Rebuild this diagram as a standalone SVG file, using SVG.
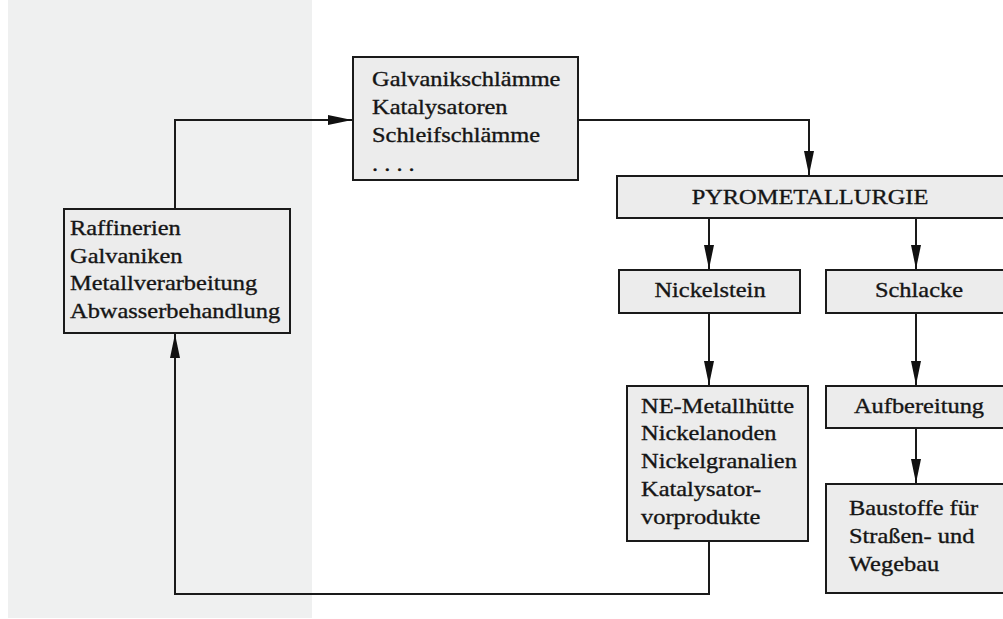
<svg xmlns="http://www.w3.org/2000/svg" width="1003" height="619" viewBox="0 0 1003 619">
  <style>
    .box { fill: #ececec; stroke: #1a1a1a; stroke-width: 2; }
    .lbl { font-family: "Liberation Serif", "Times New Roman", serif; font-size: 22px; fill: #151515; stroke: #151515; stroke-width: 0.35px; }
    .mid { text-anchor: middle; }
    .wire { fill: none; stroke: #1a1a1a; stroke-width: 2; }
  </style>
  <defs>
    <marker id="arrow" viewBox="0 0 24 10" refX="24" refY="5" markerWidth="24" markerHeight="10" markerUnits="userSpaceOnUse" orient="auto">
      <path d="M0,0 L24,5 L0,10 Z" fill="#111"/>
    </marker>
  </defs>

  <rect width="1003" height="619" fill="#ffffff"/>
  <!-- shaded panel behind the source column -->
  <rect x="8" y="0" width="304" height="618" fill="#eff0f0"/>

  <g id="connectors">
    <path class="wire" d="M175,209 L175,120 L352,120" marker-end="url(#arrow)"/>
    <path class="wire" d="M578,120 L809,120 L809,175" marker-end="url(#arrow)"/>
    <path class="wire" d="M709,218 L709,269" marker-end="url(#arrow)"/>
    <path class="wire" d="M916,218 L916,269" marker-end="url(#arrow)"/>
    <path class="wire" d="M709,313 L709,385" marker-end="url(#arrow)"/>
    <path class="wire" d="M916,313 L916,385" marker-end="url(#arrow)"/>
    <path class="wire" d="M916,428 L916,483" marker-end="url(#arrow)"/>
    <path class="wire" d="M709,541 L709,594 L175,594 L175,334" marker-end="url(#arrow)"/>
  </g>

  <!-- labels are set slightly condensed-wide: each block is scaled 1.11 horizontally from its left edge / centre -->
  <g id="quellen">
    <rect class="box" x="64" y="209" width="226" height="124"/>
    <g transform="translate(70,0) scale(1.11,1)">
      <text class="lbl" x="0" y="235">Raffinerien</text>
      <text class="lbl" x="0" y="263">Galvaniken</text>
      <text class="lbl" x="0" y="290">Metallverarbeitung</text>
      <text class="lbl" x="0" y="318">Abwasserbehandlung</text>
    </g>
  </g>

  <g id="reststoffe">
    <rect class="box" x="353" y="57" width="225" height="123"/>
    <g transform="translate(372,0) scale(1.11,1)">
      <text class="lbl" x="0" y="86">Galvanikschlämme</text>
      <text class="lbl" x="0" y="114">Katalysatoren</text>
      <text class="lbl" x="0" y="142">Schleifschlämme</text>
      <text class="lbl" x="0" y="171">. . . .</text>
    </g>
  </g>

  <g id="pyrometallurgie">
    <rect class="box" x="617" y="176" width="400" height="42"/>
    <g transform="translate(810,0) scale(1.11,1)">
      <text class="lbl mid" x="0" y="204">PYROMETALLURGIE</text>
    </g>
  </g>

  <g id="nickelstein">
    <rect class="box" x="619" y="270" width="181" height="43"/>
    <g transform="translate(710,0) scale(1.11,1)">
      <text class="lbl mid" x="0" y="297">Nickelstein</text>
    </g>
  </g>

  <g id="schlacke">
    <rect class="box" x="826" y="270" width="190" height="43"/>
    <g transform="translate(919,0) scale(1.11,1)">
      <text class="lbl mid" x="0" y="297">Schlacke</text>
    </g>
  </g>

  <g id="produkte">
    <rect class="box" x="627" y="386" width="181" height="155"/>
    <g transform="translate(641,0) scale(1.11,1)">
      <text class="lbl" x="0" y="413">NE-Metallhütte</text>
      <text class="lbl" x="0" y="440">Nickelanoden</text>
      <text class="lbl" x="0" y="468">Nickelgranalien</text>
      <text class="lbl" x="0" y="496">Katalysator-</text>
      <text class="lbl" x="0" y="524">vorprodukte</text>
    </g>
  </g>

  <g id="aufbereitung">
    <rect class="box" x="826" y="386" width="190" height="42"/>
    <g transform="translate(919,0) scale(1.11,1)">
      <text class="lbl mid" x="0" y="413">Aufbereitung</text>
    </g>
  </g>

  <g id="baustoffe">
    <rect class="box" x="826" y="484" width="190" height="109"/>
    <g transform="translate(849,0) scale(1.11,1)">
      <text class="lbl" x="0" y="515">Baustoffe für</text>
      <text class="lbl" x="0" y="543">Straßen- und</text>
      <text class="lbl" x="0" y="571">Wegebau</text>
    </g>
  </g>
</svg>
